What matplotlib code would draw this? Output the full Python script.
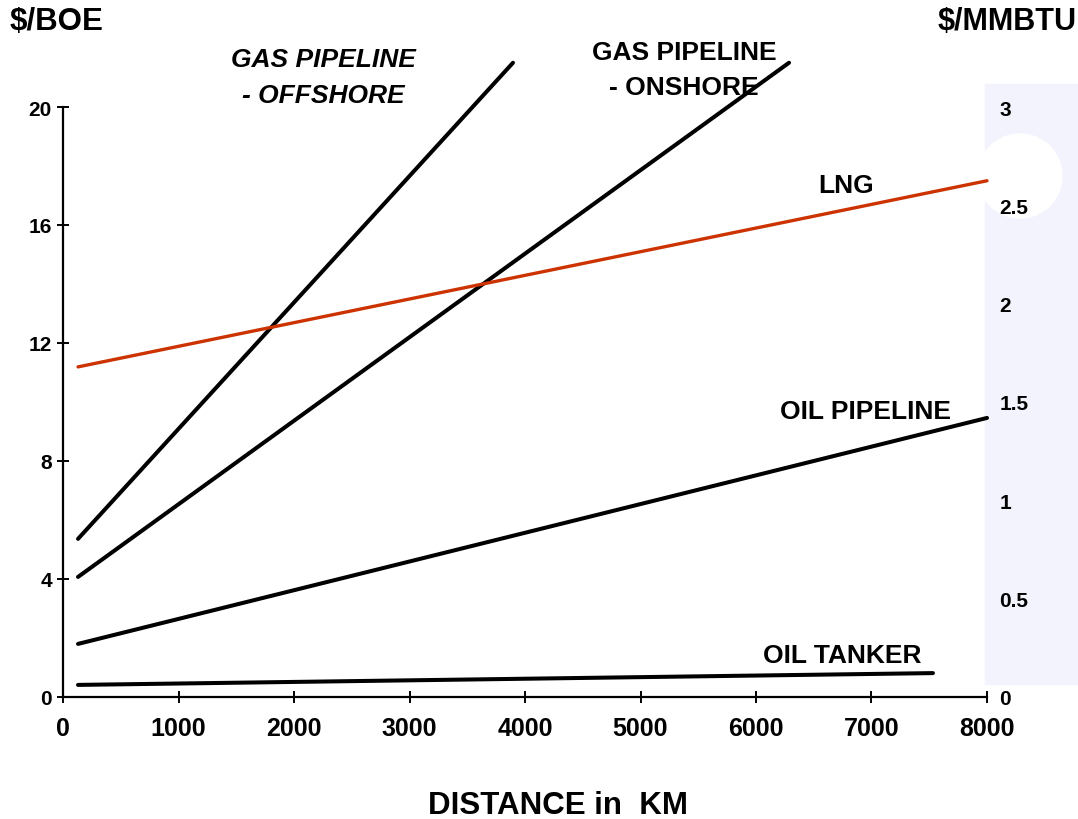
import numpy as np
import matplotlib.pyplot as plt
from matplotlib.patches import Rectangle, Ellipse

plt.rcParams['font.family'] = ['Liberation Sans', 'DejaVu Sans']
plt.rcParams['font.weight'] = 'bold'

# distance (km) at each end of the lines, cost in $/BOE
offshore_km = [130, 3896]
offshore_cost = [5.36, 21.5]
onshore_km = [130, 6286]
onshore_cost = [4.07, 21.5]
lng_km = [130, 8000]
lng_cost = [11.19, 17.5]
oil_pipe_km = [130, 8000]
oil_pipe_cost = [1.8, 9.46]
tanker_km = [130, 7532]
tanker_cost = [0.41, 0.81]

boe_ticks = [0, 4, 8, 12, 16, 20]
mmbtu_ticks = [0, 0.5, 1, 1.5, 2, 2.5, 3]
mmbtu_labels = ["0", "0.5", "1", "1.5", "2", "2.5", "3"]
km_ticks = [0, 1000, 2000, 3000, 4000, 5000, 6000, 7000, 8000]

W, H = 1078, 820
fig = plt.figure(figsize=(W / 100, H / 100), dpi=100)

# faint watermark on the right side
fig.patches.append(Rectangle((985 / W, 1 - 685 / H), 93 / W, 600 / H,
                             transform=fig.transFigure, color="#f3f3fd", zorder=-5))
fig.patches.append(Ellipse((1020 / W, 1 - 177 / H), 84 / W, 84 / H,
                           transform=fig.transFigure, color="white", zorder=-4))

ax = fig.add_axes([63 / W, 1 - 698 / H, 924 / W, 590 / H])
ax.patch.set_alpha(0)

ax.plot(offshore_km, offshore_cost, color="black", lw=2.9, clip_on=False, solid_capstyle="round")
ax.plot(onshore_km, onshore_cost, color="black", lw=2.9, clip_on=False, solid_capstyle="round")
ax.plot(lng_km, lng_cost, color="#cc3300", lw=2.4, clip_on=False, solid_capstyle="round")
ax.plot(oil_pipe_km, oil_pipe_cost, color="black", lw=2.9, clip_on=False, solid_capstyle="round")
ax.plot(tanker_km, tanker_cost, color="black", lw=2.9, clip_on=False, solid_capstyle="round")

ax.set_xlim(0, 8000)
ax.set_ylim(0, 20)
ax.set_xticks(km_ticks)
ax.set_yticks(boe_ticks)
for s in ["top", "right"]:
    ax.spines[s].set_visible(False)
for s in ["left", "bottom"]:
    ax.spines[s].set_linewidth(1.6)
ax.tick_params(axis="x", direction="inout", length=9, width=1.4, labelsize=18, pad=9)
ax.tick_params(axis="y", direction="inout", length=8, width=1.4, labelsize=15, pad=4)
for lab in ax.get_xticklabels() + ax.get_yticklabels():
    lab.set_fontweight("bold")

ax2 = ax.twinx()
ax2.set_ylim(0, 3)
ax2.set_yticks(mmbtu_ticks)
ax2.set_yticklabels(mmbtu_labels, fontsize=15, fontweight="bold")
for s in ax2.spines.values():
    s.set_visible(False)
ax2.tick_params(axis="y", length=0, pad=9)

fig.text(10 / W, 1 - 22 / H, "$/BOE", fontsize=22.5, fontweight="bold", va="center", ha="left")
fig.text(1007 / W, 1 - 22 / H, "$/MMBTU", fontsize=22, fontweight="bold", va="center", ha="center")
fig.text(558 / W, 1 - 806 / H, "DISTANCE in  KM", fontsize=22.5, fontweight="bold", va="center", ha="center")

fig.text(323 / W, 1 - 60 / H, "GAS PIPELINE", fontsize=19, fontweight="bold", style="italic", ha="center", va="center")
fig.text(323 / W, 1 - 96 / H, "- OFFSHORE", fontsize=19, fontweight="bold", style="italic", ha="center", va="center")
fig.text(684 / W, 1 - 53 / H, "GAS PIPELINE", fontsize=19, fontweight="bold", ha="center", va="center")
fig.text(684 / W, 1 - 88 / H, "- ONSHORE", fontsize=19, fontweight="bold", ha="center", va="center")
fig.text(846 / W, 1 - 186 / H, "LNG", fontsize=19, fontweight="bold", ha="center", va="center")
fig.text(865 / W, 1 - 412 / H, "OIL PIPELINE", fontsize=19, fontweight="bold", ha="center", va="center")
fig.text(842 / W, 1 - 656 / H, "OIL TANKER", fontsize=19, fontweight="bold", ha="center", va="center")

fig.savefig("out.png", dpi=100)
